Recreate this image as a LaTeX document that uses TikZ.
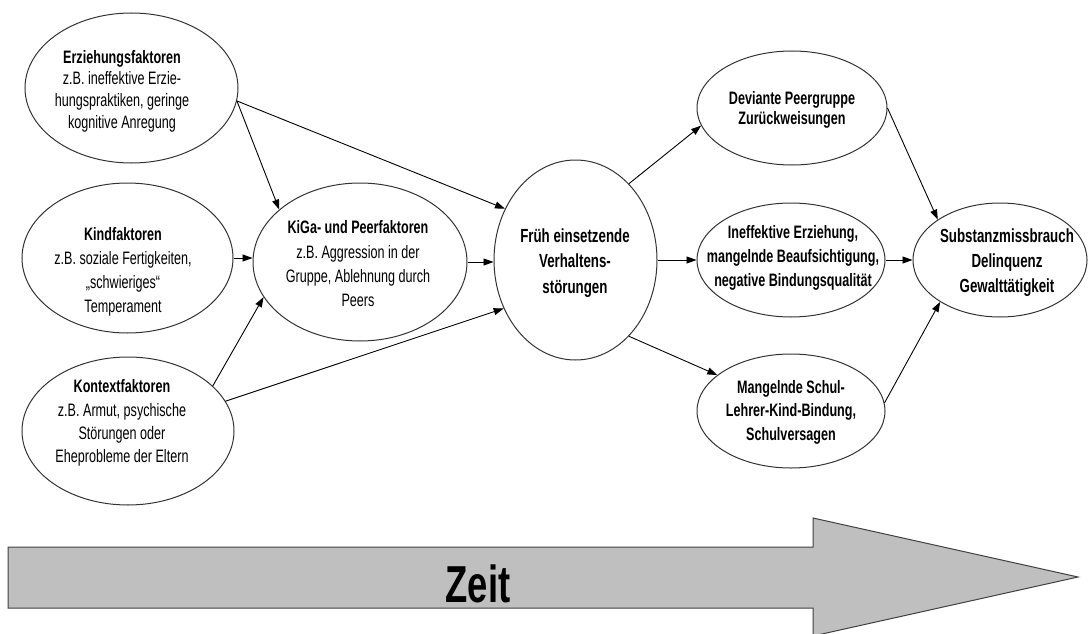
\documentclass[tikz,border=0pt]{standalone}
\usepackage{fontspec}
\setmainfont{Liberation Sans}[FakeStretch=0.7]
\newfontfamily\zeitfont{Liberation Sans}[FakeStretch=0.7]
\usetikzlibrary{shapes.geometric, arrows.meta}

\begin{document}
\begin{tikzpicture}[x=1pt, y=-1pt,
  oval/.style 2 args={ellipse, draw=black!80, line width=1pt, inner sep=0pt,
    minimum width=#1pt, minimum height=#2pt},
  txt/.style 2 args={align=center, inner sep=0pt, text=black,
    font=\fontsize{#1}{#2}\selectfont},
  btxt/.style 2 args={align=center, inner sep=0pt, text=black,
    font=\fontsize{#1}{#2}\selectfont\bfseries},
  conn/.style={line width=0.9pt, draw=black, -{Triangle[length=10pt,width=7pt]}},
  timearrow/.style={fill=black!25, draw=black!75, line width=1pt, line join=miter}
]
\path[use as bounding box] (0,0) rectangle (1090,634);

% ---- left column: risk factors ----
\node[oval={213}{150}] (erz) at (131.5,88) {};
\node[txt={18}{21.7}] (erzT) at (122,91)
  {\textbf{Erziehungsfaktoren}\\z.B. ineffektive Erzie-\\hungspraktiken, geringe\\kognitive Anregung};

\node[oval={211}{150}] (kind) at (127.5,258) {};
\node[txt={18}{24}] (kindT) at (123,272)
  {\textbf{Kindfaktoren}\\z.B. soziale Fertigkeiten,\\„schwieriges“\\Temperament};

\node[oval={212}{148}] (kon) at (128,431) {};
\node[txt={18}{23.3}] (konT) at (122,423)
  {\textbf{Kontextfaktoren}\\z.B. Armut, psychische\\Störungen oder\\Eheprobleme der Eltern};

% ---- kindergarten / peers ----
\node[oval={214}{158}] (kiga) at (360,262) {};
\node[txt={18}{24.3}] (kigaT) at (358,264)
  {\textbf{KiGa- und Peerfaktoren}\\z.B. Aggression in der\\Gruppe, Ablehnung durch\\Peers};

% ---- early onset ----
\node[oval={163}{200}] (fr) at (575.5,260) {};
\node[btxt={19}{25.5}] (frT) at (575,263)
  {Früh einsetzende\\Verhaltens-\\störungen};

% ---- right column ----
\node[oval={190}{114}] (dev) at (792,108) {};
\node[btxt={18}{19.5}] (devT) at (792,110)
  {Deviante Peergruppe\\Zurückweisungen};

\node[oval={188}{114}] (ine) at (791,260) {};
\node[btxt={18}{24}] (ineT) at (793,258)
  {Ineffektive Erziehung,\\mangelnde Beaufsichtigung,\\negative Bindungsqualität};

\node[oval={188}{114}] (man) at (791,411) {};
\node[btxt={18}{23.5}] (manT) at (791,412)
  {Mangelnde Schul-\\Lehrer-Kind-Bindung,\\Schulversagen};

\node[oval={174}{114}] (sub) at (1000,260) {};
\node[btxt={19}{25}] (subT) at (1007,263)
  {Substanzmissbrauch\\Delinquenz\\Gewalttätigkeit};

% ---- connectors ----
\draw[conn] (erz.-7) -- (kiga.147);
\draw[conn] (erz.-7) -- (fr.144.7);
\draw[conn] (kind.east) -- (kind.east -| kiga.west);
\draw[conn] (kon.28.3) -- (kiga.200.8);
\draw[conn] (kon.17.4) -- (fr.214.2);
\draw[conn] (kiga.east) -- (kiga.east -| fr.west);

\draw[conn] (fr.55.7) -- (dev.191.9);
\draw[conn] (fr.east) -- (ine.west);
\draw[conn] (fr.-55) -- (man.154.9);

\draw[conn] (dev.east) -- (sub.147.2);
\draw[conn] (ine.east) -- (sub.west);
\draw[conn] (man.5.4) -- (sub.215);

% ---- time axis ----
\draw[timearrow] (8,547) -- (813,547) -- (813,518) -- (1078,577)
  -- (813,636) -- (813,608) -- (8,608) -- cycle;
\node[anchor=base, inner sep=0pt, font=\zeitfont\fontsize{52}{52}\selectfont\bfseries]
  (zeit) at (478,602) {Zeit};
\end{tikzpicture}
\end{document}
